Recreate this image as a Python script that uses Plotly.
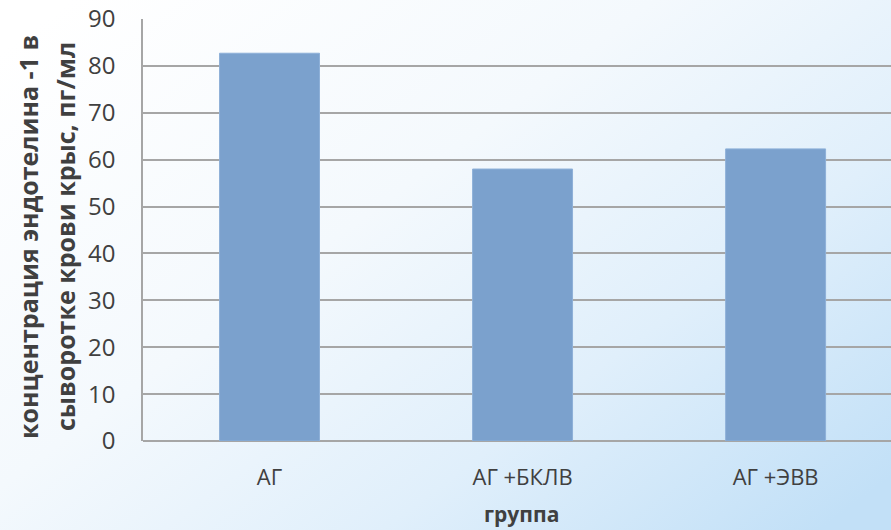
import plotly.graph_objects as go
import base64

categories = ["АГ", "АГ +БКЛВ", "АГ +ЭВВ"]
values = [82.7, 58.0, 62.3]
y_ticks = [0, 10, 20, 30, 40, 50, 60, 70, 80, 90]
y_title_lines = ["концентрация эндотелина -1 в", "сыворотке крови крыс, пг/мл"]
x_title = "группа"

svg = """<svg xmlns='http://www.w3.org/2000/svg' width='891' height='530' preserveAspectRatio='none'>
<defs>
<linearGradient id='g' x1='0' y1='0.1' x2='1' y2='0.9'>
<stop offset='0' stop-color='#ffffff'/>
<stop offset='0.4' stop-color='#f4f9fd'/>
<stop offset='0.7' stop-color='#e0effb'/>
<stop offset='1' stop-color='#c2e0f7'/>
</linearGradient>
</defs>
<rect width='891' height='530' fill='url(#g)'/>
</svg>"""
src = "data:image/svg+xml;base64," + base64.b64encode(svg.encode()).decode()

fig = go.Figure()
fig.add_trace(go.Bar(
    x=categories, y=values, width=0.395,
    marker=dict(color="#7ba1cd", line=dict(color="#8eb0d8", width=1)),
))

font_family = "Open Sans, Liberation Sans, sans-serif"
PW, PH = 748, 422
fig.update_layout(
    width=891, height=530,
    margin=dict(l=143, r=0, t=19, b=89),
    paper_bgcolor="rgba(0,0,0,0)",
    plot_bgcolor="rgba(0,0,0,0)",
    showlegend=False,
    font=dict(family=font_family, color="#404040"),
    images=[dict(source=src, xref="paper", yref="paper", x=-143/PW, y=1+19/PH,
                 sizex=891/PW, sizey=530/PH, sizing="stretch", layer="below",
                 xanchor="left", yanchor="top")],
    xaxis=dict(range=[-0.5, 2.456], showgrid=False, showline=False, ticks="",
               tickfont=dict(size=22, color="#404040"), ticklabelstandoff=21),
    yaxis=dict(range=[0, 90], tickvals=y_ticks, showgrid=True, gridcolor="#a6a6a6", gridwidth=1.5,
               showline=True, linecolor="#a6a6a6", linewidth=1.5, zeroline=True, zerolinecolor="#a6a6a6",
               zerolinewidth=1.5, ticks="", ticklabelstandoff=21,
               tickfont=dict(size=24, color="#404040")),
)
for line, cx in zip(y_title_lines, [28, 65]):
    fig.add_annotation(
        text="<b>" + line + "</b>",
        xref="paper", yref="paper", x=-(143 - cx) / PW, y=(441 - 237) / PH,
        textangle=-90, showarrow=False, font=dict(size=25, color="#404040"),
        xanchor="center", yanchor="middle",
    )
fig.add_annotation(
    text="<b>" + x_title + "</b>",
    xref="paper", yref="paper", x=(521 - 143) / PW, y=-(514 - 441) / PH,
    showarrow=False, font=dict(size=21, color="#404040"),
    xanchor="center", yanchor="middle",
)
fig.write_html("out.html")
